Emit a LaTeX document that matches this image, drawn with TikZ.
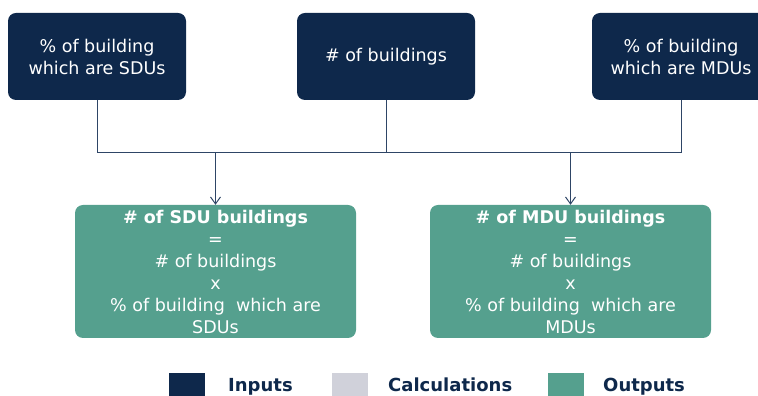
\documentclass[tikz,border=0pt]{standalone}
\usepackage{fontspec}
\setmainfont{DejaVu Sans}
\usetikzlibrary{arrows.meta,positioning}
\definecolor{navy}{HTML}{0E284B}
\definecolor{outgreen}{HTML}{55A08E}
\definecolor{calcgrey}{HTML}{D0D1DA}
\definecolor{linkblue}{HTML}{2E4566}
\tikzset{
  basic/.style  = {rectangle, rounded corners=8pt, align=center, text=white,
                   font=\fontsize{17.5}{22}\selectfont, inner sep=0pt},
  input/.style  = {basic, fill=navy, minimum width=178pt, minimum height=87pt},
  output/.style = {basic, fill=outgreen, minimum width=281pt, minimum height=133pt},
  legbox/.style = {fill=#1, minimum width=36pt, minimum height=30pt,
                   anchor=north west, inner sep=0pt},
  legtext/.style = {font=\fontsize{18}{20}\selectfont\bfseries, text=navy,
                   anchor=base west, inner sep=0pt},
  link/.style   = {draw=linkblue, line width=1pt}
}
\begin{document}
\begin{tikzpicture}[x=1pt, y=1pt, >={Straight Barb[length=7pt,width=10pt]}]
\useasboundingbox (0,0) rectangle (758,396);
\clip (0,0) rectangle (758,396);

% inputs
\node[input] (in1) at (97,339.5) {\% of building\\which are SDUs};
\node[input] (in2) at (386,339.5) {\# of buildings};
\node[input] (in3) at (681,339.5) {\% of building\\which are MDUs};

% outputs
\node[output] (out1) at (215.5,124.5)
  {\textbf{\# of SDU buildings}\\=\\\# of buildings\\x\\\% of building\ \ which are\\SDUs};
\node[output] (out2) at (570.5,124.5)
  {\textbf{\# of MDU buildings}\\=\\\# of buildings\\x\\\% of building\ \ which are\\MDUs};

% connectors
\coordinate (bus) at (97,243);
\draw[link] (in1.south) -- (bus) -- (bus -| in3.south) -- (in3.south);
\draw[link] (in2.south) -- (in2.south |- bus);
\draw[link,->] (bus -| out1.north) -- (out1.north);
\draw[link,->] (bus -| out2.north) -- (out2.north);

% legend
\node[legbox=navy] (lin) at (169,23) {};
\node[legtext] (tin) at (228,4.5) {Inputs};
\node[legbox=calcgrey] (lcalc) at (332,23) {};
\node[legtext] (tcalc) at (388,4.5) {Calculations};
\node[legbox=outgreen] (lout) at (548,23) {};
\node[legtext] (tout) at (603,4.5) {Outputs};
\end{tikzpicture}
\end{document}
